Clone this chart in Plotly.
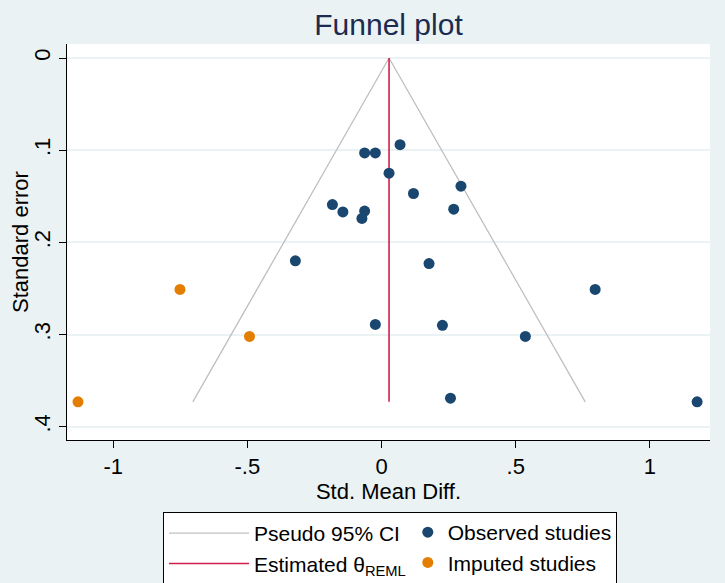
import plotly.graph_objects as go

# ---- data ----
theta_reml = 0.028          # estimated overall effect (REML)
se_max = 0.373              # largest standard error (funnel depth)
z95 = 1.96

obs_smd = [0.069, -0.063, -0.023, 0.028, 0.296, 0.119, -0.183, -0.144, -0.063, -0.073,
           0.269, -0.321, 0.177, 0.796, -0.023, 0.227, 0.536, 0.257, 1.176]
obs_se = [0.094, 0.103, 0.103, 0.125, 0.139, 0.147, 0.159, 0.167, 0.166, 0.174,
          0.164, 0.220, 0.223, 0.251, 0.289, 0.290, 0.302, 0.369, 0.373]

imp_smd = [-0.751, -0.492, -1.131]
imp_se = [0.251, 0.302, 0.373]

x_tickvals = [-1, -0.5, 0, 0.5, 1]
x_ticktext = ["-1", "-.5", "0", ".5", "1"]
y_tickvals = [0, 0.1, 0.2, 0.3, 0.4]
y_ticktext = ["0", ".1", ".2", ".3", ".4"]

# ---- style ----
BG = "#EAF2F3"
NAVY = "#1A476F"
ORANGE = "#E37E00"
RED = "#D21F4B"
GRAY = "#BFBFBF"
FONT = "Liberation Sans, Arial, sans-serif"

fig = go.Figure()

fig.add_trace(go.Scatter(
    x=[theta_reml - z95 * se_max, theta_reml, theta_reml + z95 * se_max],
    y=[se_max, 0, se_max],
    mode="lines", line=dict(color=GRAY, width=1.3),
    name="Pseudo 95% CI", legend="legend"))

fig.add_trace(go.Scatter(
    x=[theta_reml, theta_reml], y=[0, se_max],
    mode="lines", line=dict(color=RED, width=1.6),
    name="Estimated θ<sub>REML</sub>", legend="legend"))

fig.add_trace(go.Scatter(
    x=obs_smd, y=obs_se, mode="markers",
    marker=dict(color=NAVY, size=11),
    name="Observed studies", legend="legend2"))

fig.add_trace(go.Scatter(
    x=imp_smd, y=imp_se, mode="markers",
    marker=dict(color=ORANGE, size=11),
    name="Imputed studies", legend="legend2"))

fig.update_layout(
    width=725, height=583,
    paper_bgcolor=BG, plot_bgcolor="white",
    margin=dict(l=67, r=15, t=44, b=143, autoexpand=False),
    font=dict(family=FONT, size=22, color="black"),
    title=dict(text="Funnel plot", x=0.5, xref="paper", y=1 - 24 / 583,
               yanchor="middle", xanchor="center",
               font=dict(size=30, color="#1C2B4F", family=FONT)),
    showlegend=True,
    legend=dict(orientation="h", x=0.1493, xanchor="left", y=-0.1818, yanchor="top",
                bgcolor="white", bordercolor="black", borderwidth=1,
                entrywidth=357, itemwidth=80, font=dict(size=21),
                traceorder="normal", tracegroupgap=0),
    legend2=dict(orientation="v", x=0.5300, xanchor="left", y=-0.1818, yanchor="top",
                 bgcolor="rgba(0,0,0,0)", borderwidth=0, itemwidth=30,
                 font=dict(size=21), traceorder="normal", tracegroupgap=0),
    annotations=[dict(text="Standard error", textangle=-90, xref="paper", yref="paper",
                      x=-0.0731, y=0.5, xanchor="center", yanchor="middle",
                      showarrow=False, font=dict(size=22))],
)

fig.update_xaxes(
    range=[-1.172, 1.224], tickvals=x_tickvals, ticktext=x_ticktext,
    showgrid=False, zeroline=False, showline=True, linecolor="black", linewidth=1,
    ticks="outside", ticklen=7, tickcolor="black", tickfont=dict(size=22),
    title=dict(text="Std. Mean Diff.", font=dict(size=22), standoff=0),
    automargin=False,
)
fig.update_yaxes(
    range=[0.4144, -0.0152], tickvals=y_tickvals, ticktext=y_ticktext,
    showgrid=True, gridcolor=BG, gridwidth=2, zeroline=False,
    showline=True, linecolor="black", linewidth=1,
    ticks="outside", ticklen=7, tickcolor="black", tickangle=-90, tickfont=dict(size=22),
    automargin=False,
)

fig.write_html("out.html", config={"displayModeBar": False},
               post_script="document.body.style.margin='0px';")
